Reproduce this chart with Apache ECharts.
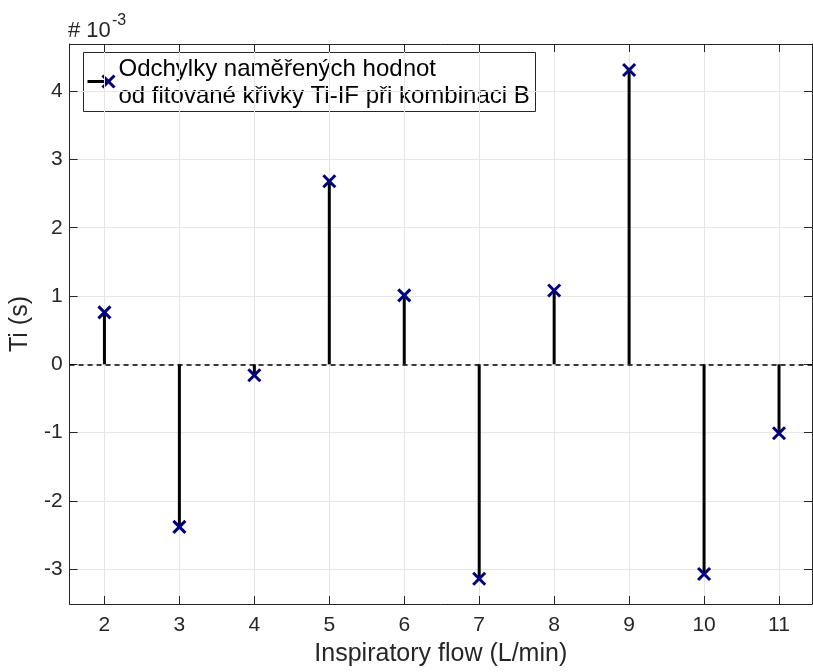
<!DOCTYPE html>
<html>
<head>
<meta charset="utf-8">
<script src="https://cdn.jsdelivr.net/npm/echarts@6/dist/echarts.min.js"></script>
<style>
html,body{margin:0;padding:0;background:#fff;}
#chart{width:813px;height:672px;}
</style>
</head>
<body>
<div id="chart"></div>
<script>
// Inspiratory flow (L/min)
const flows = [2, 3, 4, 5, 6, 7, 8, 9, 10, 11];
// Deviations of Ti from the fitted Ti-IF curve, in units of 10^-3 s
const deviations = [0.76, -2.38, -0.16, 2.68, 1.01, -3.14, 1.08, 4.31, -3.07, -1.01];
const xTicks = [2, 3, 4, 5, 6, 7, 8, 9, 10, 11];
const yTicks = [-3, -2, -1, 0, 1, 2, 3, 4];
const legendLines = ['Odchylky naměřených hodnot', 'od fitované křivky Ti-IF při kombinaci B'];

const FONT = 'Liberation Sans, Arial, Helvetica, sans-serif';
const AX = '#262626';
const STEM = '#000000';
const MARK = '#000080';

const chart = echarts.init(document.getElementById('chart'), null, {renderer: 'canvas'});

const xRange = {min: 1.535, max: 11.44};
const yRange = {min: -3.51, max: 4.69};

function xAxisDef(pos, labels) {
  return {
    type: 'value', position: pos, min: xRange.min, max: xRange.max,
    axisLine: {show: true, onZero: false, lineStyle: {color: AX, width: 1}},
    axisTick: {show: true, inside: true, length: 8, customValues: xTicks, lineStyle: {color: AX, width: 1}},
    axisLabel: {show: labels, customValues: xTicks, color: AX, fontSize: 21, fontFamily: FONT, margin: 11},
    splitLine: {show: labels, lineStyle: {color: '#e6e6e6', width: 1}},
    name: labels ? 'Inspiratory flow (L/min)' : '',
    nameLocation: 'middle', nameGap: 38,
    nameTextStyle: {color: AX, fontSize: 25, fontFamily: FONT}
  };
}
function yAxisDef(pos, labels) {
  return {
    type: 'value', position: pos, min: yRange.min, max: yRange.max,
    axisLine: {show: true, onZero: false, lineStyle: {color: AX, width: 1}},
    axisTick: {show: true, inside: true, length: 8, customValues: yTicks, lineStyle: {color: AX, width: 1}},
    axisLabel: {show: labels, customValues: yTicks, color: AX, fontSize: 21, fontFamily: FONT, margin: 7},
    splitLine: {show: labels, lineStyle: {color: '#e6e6e6', width: 1}},
    name: labels ? 'Ti (s)' : '',
    nameLocation: 'middle', nameGap: 29, nameRotate: 90,
    nameTextStyle: {color: AX, fontSize: 25, fontFamily: FONT}
  };
}

const points = flows.map((f, i) => [f, deviations[i]]);

chart.setOption({
  animation: false,
  backgroundColor: '#ffffff',
  grid: {left: 68, right: 1, top: 44, bottom: 68, containLabel: false},
  xAxis: [xAxisDef('bottom', true), xAxisDef('top', false)],
  yAxis: [yAxisDef('left', true), yAxisDef('right', false)],
  series: [
    {
      type: 'custom',
      data: points,
      encode: {x: 0, y: 1},
      clip: false,
      renderItem: function (params, api) {
        const p = api.coord([api.value(0), api.value(1)]);
        const b = api.coord([api.value(0), 0]);
        const s = 6;
        return {
          type: 'group',
          children: [
            {type: 'line', shape: {x1: b[0], y1: b[1], x2: p[0], y2: p[1]},
             style: {stroke: STEM, lineWidth: 3}},
            {type: 'line', shape: {x1: p[0] - s, y1: p[1] - s, x2: p[0] + s, y2: p[1] + s},
             style: {stroke: MARK, lineWidth: 3}, z2: 5},
            {type: 'line', shape: {x1: p[0] - s, y1: p[1] + s, x2: p[0] + s, y2: p[1] - s},
             style: {stroke: MARK, lineWidth: 3}, z2: 5}
          ]
        };
      },
      markLine: {
        silent: true, symbol: 'none', label: {show: false},
        lineStyle: {color: '#000', type: [5, 4], width: 1.5},
        data: [{yAxis: 0}]
      },
      z: 3
    }
  ],
  graphic: [
    // axis exponent: # 10^-3
    {type: 'text', x: 68, y: 30.5,
     style: {text: '# 10', fill: AX, fontSize: 22, fontFamily: FONT, verticalAlign: 'middle', align: 'left'}},
    {type: 'text', x: 112, y: 21,
     style: {text: '-3', fill: AX, fontSize: 16, fontFamily: FONT, verticalAlign: 'middle', align: 'left'}},
    {
      type: 'group', left: 83, top: 52, z: 10,
      children: [
        {type: 'rect', shape: {x: 0, y: 0, width: 452, height: 59},
         style: {fill: '#fff', stroke: AX, lineWidth: 1}},
        {type: 'line', shape: {x1: 4, y1: 29, x2: 23, y2: 29}, style: {stroke: STEM, lineWidth: 3}},
        {type: 'line', shape: {x1: 19, y1: 23, x2: 31, y2: 35}, style: {stroke: MARK, lineWidth: 3}},
        {type: 'line', shape: {x1: 19, y1: 35, x2: 31, y2: 23}, style: {stroke: MARK, lineWidth: 3}},
        {type: 'text', x: 35, y: 3,
         style: {text: legendLines.join('\n'), fill: '#000', fontSize: 24, fontFamily: FONT, lineHeight: 27}}
      ]
    }
  ]
});
</script>
</body>
</html>
